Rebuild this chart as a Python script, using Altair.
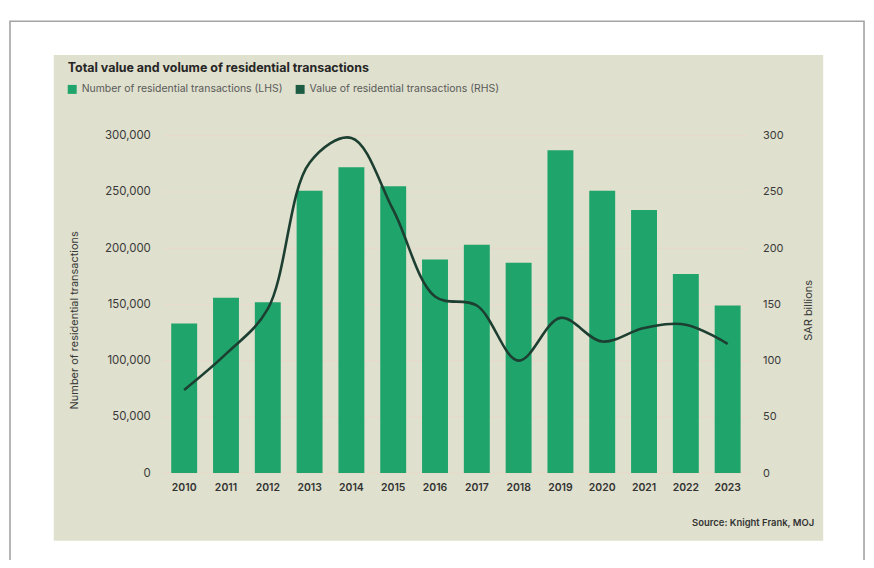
import altair as alt
import pandas as pd

# ---------------- data ----------------
years = [str(y) for y in range(2010, 2024)]
transactions = [133000, 156000, 152000, 251000, 272000, 255000, 190000,
                203000, 187000, 287000, 251000, 234000, 177000, 149000]
value_sar = [74, 106, 146, 276, 298, 234, 157, 149, 100, 138, 117, 129, 132, 115]
left_ticks = [0, 50000, 100000, 150000, 200000, 250000, 300000]
right_ticks = [0, 50, 100, 150, 200, 250, 300]

title_text = "Total value and volume of residential transactions"
legend_bar = "Number of residential transactions (LHS)"
legend_line = "Value of residential transactions (RHS)"
left_title = "Number of residential transactions"
right_title = "SAR billions"
source_text = "Source: Knight Frank, MOJ"

# ---------------- styling ----------------
FONT = "Inter"
BAR = "#1FA46B"
LINE = "#1C3F32"
LEG_LINE = "#1E5B45"
BEIGE = "#DFE0CD"
GRID = "#E9D9CC"

PLOT_W, PLOT_H = 588, 339
PAD_L, PAD_T = 156, 127
PAD_R = 862 - PAD_L - PLOT_W
PAD_B = 552 - PAD_T - PLOT_H

df = pd.DataFrame({"year": years, "transactions": transactions, "value": value_sar})
one = pd.DataFrame({"k": [0]})
grid_df = pd.DataFrame({"v": left_ticks})

x_enc = alt.X(
    "year:N", sort=years,
    scale=alt.Scale(paddingInner=0.38, paddingOuter=0.19),
    axis=alt.Axis(title=None, labelAngle=0, ticks=False, domain=False, grid=False,
                  labelPadding=9, labelFont=FONT, labelFontSize=10.5,
                  labelFontWeight=600, labelColor="#333333", zindex=1),
)

frame = alt.Chart(one).mark_rect(fill="transparent", stroke="#A3A3A3", strokeWidth=1.6).encode(
    x=alt.value(-154), x2=alt.value(704), y=alt.value(-115), y2=alt.value(460)
)
panel = alt.Chart(one).mark_rect(fill=BEIGE).encode(
    x=alt.value(-110), x2=alt.value(663), y=alt.value(-81), y2=alt.value(407)
)
grid = alt.Chart(grid_df).mark_rule(color=GRID, strokeWidth=1).encode(
    y=alt.Y("v:Q", scale=alt.Scale(domain=[0, 300000], nice=False), axis=None)
)

bars = alt.Chart(df).mark_bar(color=BAR).encode(
    x=x_enc,
    y=alt.Y("transactions:Q", scale=alt.Scale(domain=[0, 300000], nice=False),
            axis=alt.Axis(orient="left", values=left_ticks, format=",d", grid=False,
                          ticks=False, domain=False, labelPadding=13,
                          labelFont=FONT, labelFontSize=11.5, labelColor="#3a3a3a",
                          title=left_title, titleFont=FONT, titleFontSize=11,
                          titleFontWeight="normal", titleColor="#3a3a3a",
                          titleAngle=270, titleX=-89, titleY=185,
                          titleAlign="center", titleBaseline="middle", zindex=1)),
)

line = alt.Chart(df).mark_line(color=LINE, strokeWidth=2.6, interpolate="catmull-rom").encode(
    x=alt.X("year:N", sort=years),
    y=alt.Y("value:Q", scale=alt.Scale(domain=[0, 300], nice=False),
            axis=alt.Axis(orient="right", values=right_ticks, grid=False,
                          ticks=False, domain=False, labelPadding=14,
                          labelFont=FONT, labelFontSize=11, labelColor="#3a3a3a",
                          title=right_title, titleFont=FONT, titleFontSize=11,
                          titleFontWeight="normal", titleColor="#3a3a3a",
                          titleAngle=270, titleX=60, titleY=175,
                          titleAlign="center", titleBaseline="middle", zindex=1)),
)

def txt(text, x, y, size, color, weight="normal", align="left"):
    return alt.Chart(one).mark_text(
        font=FONT, fontSize=size, color=color, fontWeight=weight,
        align=align, baseline="middle"
    ).encode(x=alt.value(x), y=alt.value(y), text=alt.value(text))

title = txt(title_text, -96, -68, 12.5, "#262626", "bold")
sq1 = alt.Chart(one).mark_rect(fill=BAR).encode(
    x=alt.value(-96), x2=alt.value(-87), y=alt.value(-51), y2=alt.value(-42))
lt1 = txt(legend_bar, -82, -47, 10.5, "#5a5a5a")
sq2 = alt.Chart(one).mark_rect(fill=LEG_LINE).encode(
    x=alt.value(133), x2=alt.value(142), y=alt.value(-51), y2=alt.value(-42))
lt2 = txt(legend_line, 147, -47, 10.5, "#5a5a5a")
source = txt(source_text, 654, 389, 9.5, "#333333", 600, "right")

chart = alt.layer(
    frame, panel, grid, bars, line, title, sq1, lt1, sq2, lt2, source
).resolve_scale(y="independent").properties(
    width=PLOT_W, height=PLOT_H,
    autosize=alt.AutoSizeParams(type="none"),
    padding={"left": PAD_L, "top": PAD_T, "right": PAD_R, "bottom": PAD_B},
    background="white",
).configure_view(stroke=None)

chart.save("out.html", embed_options={"renderer": "svg", "actions": False})
